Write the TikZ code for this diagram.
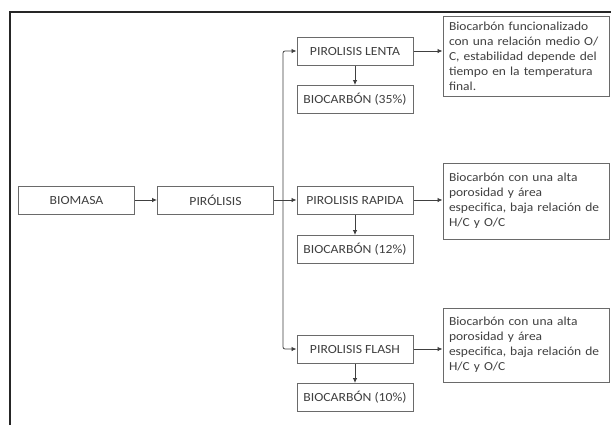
\documentclass[tikz,border=0pt]{standalone}
\usepackage{fontspec}
\setmainfont{Carlito}[FakeStretch=1.1]
\usetikzlibrary{arrows.meta,shadows}
\definecolor{boxline}{HTML}{6A6A6A}
\definecolor{txt}{HTML}{404040}
\tikzset{
  box/.style={draw=boxline, line width=1pt, fill=white, rectangle,
    minimum width=116bp, minimum height=28bp, inner sep=2bp,
    text=txt, font=\fontsize{12.5}{15}\selectfont,
    drop shadow={opacity=0.2, shadow xshift=0.8bp, shadow yshift=-0.8bp}},
  descbox/.style={box, minimum width=166bp, text width=154bp, align=left,
    inner sep=6bp, font=\fontsize{12.3}{15}\selectfont},
  arr/.style={draw=txt, line width=0.8pt, -{Latex[length=5bp,width=4.5bp]}},
  frameline/.style={draw=black!85, line width=1.6pt}
}
\begin{document}
\begin{tikzpicture}[x=1bp,y=-1bp]
  \fill[white] (0,0) rectangle (611,425);
  \useasboundingbox (0,0) rectangle (611,425);
  \draw[frameline] (10,425) -- (10,12) -- (611,12);

  \node[box] (bio) at (76.5,200) {BIOMASA};
  \node[box] (pir) at (215.5,200) {PIRÓLISIS};
  \node[box] (lenta) at (355,51) {PIROLISIS LENTA};
  \node[box] (b35) at (355,99.5) {BIOCARBÓN (35\%)};
  \node[box] (rapida) at (355,200) {PIROLISIS RAPIDA};
  \node[box] (b12) at (355,249.5) {BIOCARBÓN (12\%)};
  \node[box] (flash) at (355,349) {PIROLISIS FLASH};
  \node[box] (b10) at (355,397.5) {BIOCARBÓN (10\%)};

  \node[descbox, minimum height=79bp] (t1) at (526,56.5)
    {Biocarbón funcionalizado\\con una relación medio O/\\C, estabilidad depende del\\tiempo en la temperatura\\final.};
  \node[descbox, minimum height=76bp] (t2) at (526,201)
    {Biocarbón con una alta\\porosidad y área\\especifica, baja relación de\\H/C y O/C};
  \node[descbox, minimum height=74bp] (t3) at (526,345)
    {Biocarbón con una alta\\porosidad y área\\especifica, baja relación de\\H/C y O/C};

  \coordinate (j) at (283,200);

  \draw[arr] (bio) -- (pir);
  \draw[arr] (pir) -- (rapida);
  \draw[arr, rounded corners=2bp] (j) |- (lenta.west);
  \draw[arr, rounded corners=2bp] (j) |- (flash.west);

  \draw[arr] (lenta.south) -- (b35.north);
  \draw[arr] (rapida.south) -- (b12.north);
  \draw[arr] (flash.south) -- (b10.north);

  \draw[arr] (lenta.east) -- (lenta.east -| t1.west);
  \draw[arr] (rapida.east) -- (rapida.east -| t2.west);
  \draw[arr] (flash.east) -- (flash.east -| t3.west);
\end{tikzpicture}
\end{document}
